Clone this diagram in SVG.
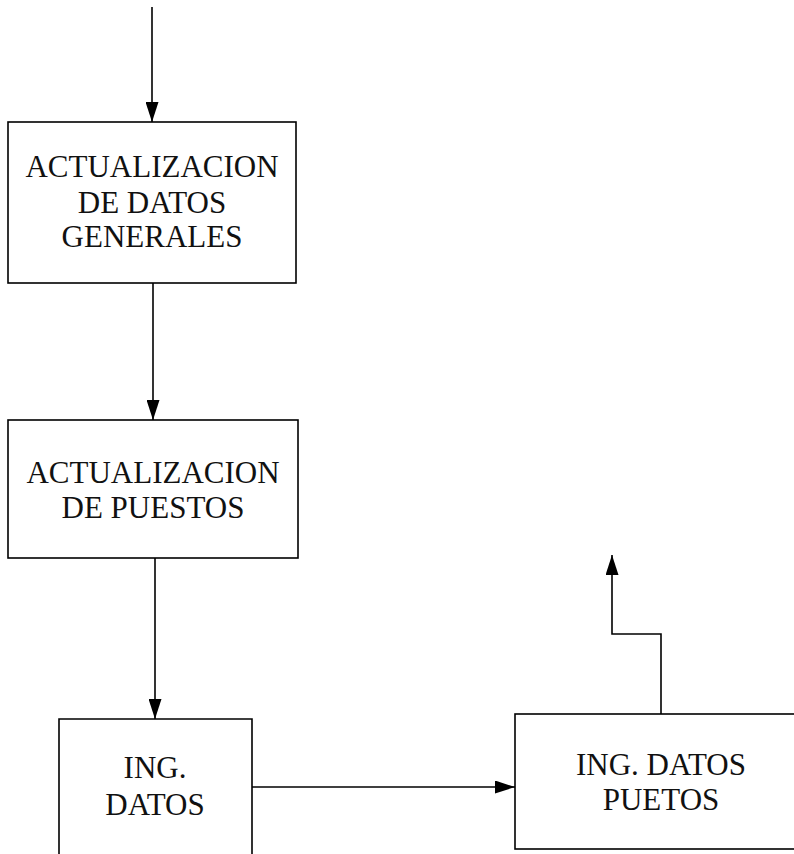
<svg xmlns="http://www.w3.org/2000/svg" width="794" height="854" viewBox="0 0 794 854">
  <style>
    .box { fill: #fff; stroke: #000; stroke-width: 1.6; }
    .lbl { font-family: "Liberation Serif", "Times New Roman", serif; font-size: 31px; fill: #111; text-anchor: middle; }
    .wire { fill: none; stroke: #000; stroke-width: 1.6; }
  </style>
  <defs>
    <marker id="arrow" viewBox="0 0 20 13" refX="20" refY="6.5" markerWidth="20" markerHeight="13" markerUnits="userSpaceOnUse" orient="auto">
      <path d="M0,0 L20,6.5 L0,13 Z" fill="#000"/>
    </marker>
  </defs>

  <g id="connectors">
    <path class="wire" d="M152,7 V122" marker-end="url(#arrow)"/>
    <path class="wire" d="M153,283 V420" marker-end="url(#arrow)"/>
    <path class="wire" d="M155,558 V719" marker-end="url(#arrow)"/>
    <path class="wire" d="M252,787 H515" marker-end="url(#arrow)"/>
    <path class="wire" d="M661,714 V634 H612 V555" marker-end="url(#arrow)"/>
  </g>

  <g id="actualizacion-datos-generales">
    <rect class="box" x="8" y="122" width="288" height="161"/>
    <text class="lbl" x="152" y="177">ACTUALIZACION</text>
    <text class="lbl" x="152" y="213">DE DATOS</text>
    <text class="lbl" x="152" y="247">GENERALES</text>
  </g>

  <g id="actualizacion-puestos">
    <rect class="box" x="8" y="420" width="290" height="138"/>
    <text class="lbl" x="153" y="483">ACTUALIZACION</text>
    <text class="lbl" x="153" y="518">DE PUESTOS</text>
  </g>

  <g id="ing-datos">
    <path class="box" d="M59,856 V719 H252 V856"/>
    <text class="lbl" x="155" y="778">ING.</text>
    <text class="lbl" x="155" y="815">DATOS</text>
  </g>

  <g id="ing-datos-puetos">
    <rect class="box" x="515" y="714" width="300" height="135"/>
    <text class="lbl" x="661" y="775">ING. DATOS</text>
    <text class="lbl" x="661" y="810">PUETOS</text>
  </g>
</svg>
